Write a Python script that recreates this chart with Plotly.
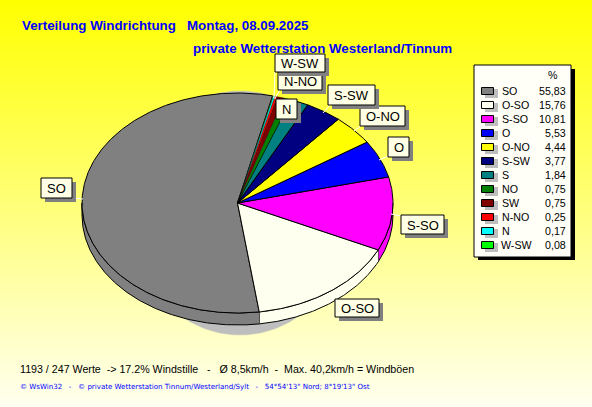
import numpy as np
import plotly.graph_objects as go

# ---- data (legend order) ----
directions = ["SO", "O-SO", "S-SO", "O", "O-NO", "S-SW", "S", "NO", "SW", "N-NO", "N", "W-SW"]
percent = [55.83, 15.76, 10.81, 5.53, 4.44, 3.77, 1.84, 0.75, 0.75, 0.25, 0.17, 0.08]
percent_labels = ["55,83", "15,76", "10,81", "5,53", "4,44", "3,77", "1,84", "0,75", "0,75", "0,25", "0,17", "0,08"]
colors = ["#808080", "#FFFFF0", "#FF00FF", "#0000FF", "#FFFF00", "#000080",
          "#008080", "#008000", "#800000", "#FF0000", "#00FFFF", "#00FF00"]

title_1 = "Verteilung Windrichtung   Montag, 08.09.2025"
title_2 = "private Wetterstation Westerland/Tinnum"
stats_line = "1193 / 247 Werte  -> 17.2% Windstille   -   Ø 8,5km/h  -  Max. 40,2km/h = Windböen"
footer_line = "© WsWin32   -   © private Wetterstation Tinnum/Westerland/Sylt   -   54°54'13\" Nord; 8°19'13\" Ost"

# ---- layout geometry (page pixels) ----
W, H = 592, 407
CX, CY, RX, RY, DEPTH = 237.5, 203.0, 155.5, 110.0, 12.0
START_ANGLE = 77.0
FONT = "Arial, 'Liberation Sans', sans-serif"

# callout boxes: x0, y0, x1, y1, leader line x0, y0, x1, y1
callouts = {
    "SO": (41, 178, 72, 198, 72, 198, 83, 199),
    "O-SO": (335, 299, 379, 317, 350, 299, 345, 303),
    "S-SO": (401, 215, 444, 234, 391, 214, 401, 216),
    "O": (388, 137, 409, 157, 379, 160, 388, 156),
    "O-NO": (360, 106, 405, 126, 354, 131, 362, 125),
    "S-SW": (328, 85, 375, 105, 323, 113, 330, 105),
    "N-NO": (278, 72, 322, 90, 275, 98, 280, 90),
    "N": (276, 99, 297, 119, 273, 97, 277, 100),
    "W-SW": (275, 54, 325, 72, 274, 97, 275, 72),
}
callout_order = ["SO", "O-SO", "S-SO", "O", "O-NO", "S-SW", "N-NO", "N", "W-SW"]

fig = go.Figure()

# page gradient
rows = np.arange(H) + 0.5
fig.add_trace(go.Heatmap(
    x=[0, W], y=rows, z=np.column_stack([rows, rows]),
    zmin=0, zmax=H, colorscale=[[0, "rgb(255,255,0)"], [1, "rgb(255,255,240)"]],
    showscale=False, hoverinfo="skip"))


def ex(t):
    return CX + RX * np.cos(np.radians(t))


def ey(t):
    return CY - RY * np.sin(np.radians(t))


def poly(x, y, fill, line="black", width=1):
    fig.add_trace(go.Scatter(x=x, y=y, mode="lines", fill="toself", fillcolor=fill,
                             line=dict(color=line, width=width), hoverinfo="skip"))


# drop shadow of the pie
ts = np.linspace(0, 360, 241)
poly(240 + 110 * np.cos(np.radians(ts)), 213 + 122 * np.sin(np.radians(ts)), "#BEBEBE", "#BEBEBE", 0.5)

# wedges run clockwise from SO's end: reversed legend order, smallest first
wedges = []
angle = START_ANGLE
for name, val, col in zip(directions[::-1], percent[::-1], colors[::-1]):
    sweep = val / sum(percent) * 360
    wedges.append((name, val, col, angle, angle - sweep))
    angle -= sweep

# side wall (only where the rim faces the viewer)
for name, val, col, a0, a1 in wedges:
    a0n, a1n = min(a0, 0), max(a1, -180)
    if a0n > a1n:
        t = np.linspace(a0n, a1n, max(3, int((a0n - a1n) * 2)))
        poly(np.r_[ex(t), ex(t[::-1])], np.r_[ey(t), ey(t[::-1]) + DEPTH], col)

# top face: largest first, so the neighbours' outlines do not cover the slivers
for name, val, col, a0, a1 in sorted(wedges, key=lambda w: -w[1]):
    t = np.linspace(a0, a1, max(3, int((a0 - a1) * 2)))
    fig.add_trace(go.Scatter(
        x=np.r_[CX, ex(t), CX], y=np.r_[CY, ey(t), CY], mode="lines", fill="toself",
        fillcolor=col, line=dict(color="black", width=1 if val > 1 else 0.3), name=name,
        text=f"{name}: {val}%", hoverinfo="text"))

shapes = []
annotations = []


def rect(x0, y0, x1, y1, fill, line=None, width=1):
    shapes.append(dict(type="rect", xref="x", yref="y", x0=x0, y0=y0, x1=x1, y1=y1,
                       fillcolor=fill, line=dict(color=line or fill, width=width if line else 0),
                       layer="above"))


def text(x, y, s, size=10.67, color="black", anchor="left", family=FONT):
    annotations.append(dict(x=x, y=y, xref="x", yref="y", text=s, showarrow=False, xanchor=anchor,
                            yanchor="middle", borderpad=0, borderwidth=0,
                            font=dict(size=size, color=color, family=family)))


# callouts
for name in callout_order:
    x0, y0, x1, y1, lx0, ly0, lx1, ly1 = callouts[name]
    shapes.append(dict(type="line", xref="x", yref="y", x0=lx0, y0=ly0, x1=lx1, y1=ly1,
                       line=dict(color="white", width=1), layer="above"))
    rect(x0 + 4, y0 + 4, x1 + 4, y1 + 4, "#808080")
    rect(x0, y0, x1, y1, "#FFFFE6", "black")
    text((x0 + x1) / 2, (y0 + y1) / 2 + 0.5, name, size=13, anchor="center")

# legend panel
rect(478, 69, 575, 260, "black")
rect(474, 65, 571, 257, "#FFFFF8", "black")
text(553, 75, "%", anchor="center")
for i, (name, lab, col) in enumerate(zip(directions, percent_labels, colors)):
    yc = 91 + i * 14
    rect(485, yc - 2, 498, yc + 7, "#BEBEBE")
    rect(481.5, yc - 3.5, 493.5, yc + 3.5, col, "black")
    text(501 if name == "W-SW" else 502, yc, name)
    text(566, yc, lab, anchor="right")

# texts
text(22, 25, "<b>" + title_1.replace("   ", "&nbsp;&nbsp;&nbsp;") + "</b>", size=13.33, color="#0000FF")
text(193, 48, "<b>" + title_2 + "</b>", size=13.33, color="#0000FF")
text(20, 369, stats_line.replace("  ", "&nbsp;&nbsp;"), size=10.67)
text(20, 386, footer_line.replace("  ", "&nbsp;&nbsp;"), size=7.05, color="#0000FF", family="DejaVu Sans")

fig.update_layout(
    width=W, height=H, margin=dict(l=0, r=0, t=0, b=0), showlegend=False,
    paper_bgcolor="#FFFFE0", plot_bgcolor="rgba(0,0,0,0)",
    xaxis=dict(range=[0, W], visible=False, fixedrange=True),
    yaxis=dict(range=[H, 0], visible=False, fixedrange=True),
    shapes=shapes, annotations=annotations)

fig.write_html("out.html", config={"displayModeBar": False},
               post_script="document.body.style.margin='0';")
